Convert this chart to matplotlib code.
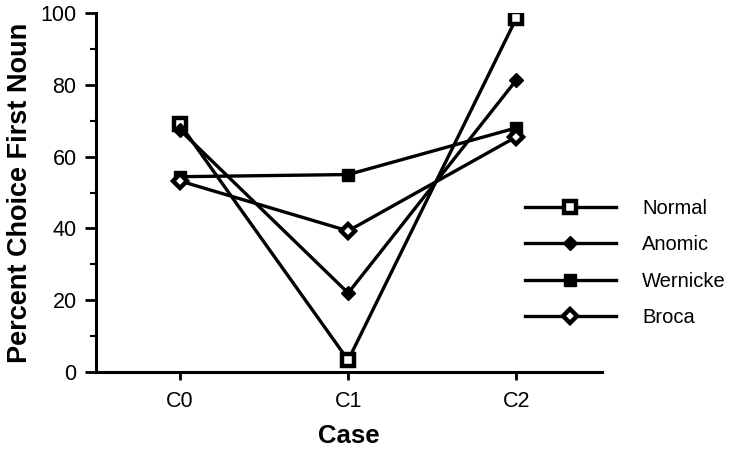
import matplotlib
matplotlib.use("Agg")
import matplotlib.pyplot as plt
from matplotlib.ticker import MultipleLocator

plt.rcParams['font.family'] = ['Liberation Sans', 'DejaVu Sans']

cases = ["C0", "C1", "C2"]
normal = [69, 3.3, 98.5]
anomic = [67.4, 22, 81.3]
wernicke = [54.4, 55, 68]
broca = [53.2, 39.3, 65.5]

fig = plt.figure(figsize=(7.38, 4.49), dpi=100)
ax = fig.add_axes([96/738, 1-372/449, (602-96)/738, (372-13)/449])

x = list(range(len(cases)))
lw = 2.4
ax.plot(x, normal, color='black', lw=lw, marker='s', ms=8, mfc='white', mec='black', mew=3.2, label='Normal', zorder=3)
ax.plot(x, anomic, color='black', lw=lw, marker='D', ms=7.5, mfc='black', mec='black', label='Anomic', zorder=3)
ax.plot(x, wernicke, color='black', lw=lw, marker='s', ms=8, mfc='black', mec='black', label='Wernicke', zorder=3)
ax.plot(x, broca, color='black', lw=lw, marker='D', ms=7.5, mfc='white', mec='black', mew=3.2, label='Broca', zorder=3)

ax.set_xlim(-0.5, 2.51)
ax.set_ylim(0, 100)
ax.set_xticks(x)
ax.set_xticklabels(cases, fontsize=15.5)
ax.yaxis.set_major_locator(MultipleLocator(20))
ax.yaxis.set_minor_locator(MultipleLocator(10))
ax.tick_params(axis='y', which='major', length=8, width=2, labelsize=15.5, pad=6)
ax.tick_params(axis='y', which='minor', length=4, width=1.5)
ax.tick_params(axis='x', which='major', length=6, width=2, labelsize=15.5, pad=8)
for s in ['top', 'right']:
    ax.spines[s].set_visible(False)
for s in ['left', 'bottom']:
    ax.spines[s].set_linewidth(2.2)

ax.set_xlabel('Case', fontsize=18.5, fontweight='bold', labelpad=8)
ax.set_ylabel('Percent Choice First Noun', fontsize=19.5, fontweight='bold', labelpad=5)

leg = ax.legend(loc='center left', bbox_to_anchor=(507/738, 1-263/449), bbox_transform=fig.transFigure,
                frameon=False, fontsize=14.5, handlelength=4.5, handletextpad=1.3, labelspacing=0.85)

fig.savefig('out.png', dpi=100)
